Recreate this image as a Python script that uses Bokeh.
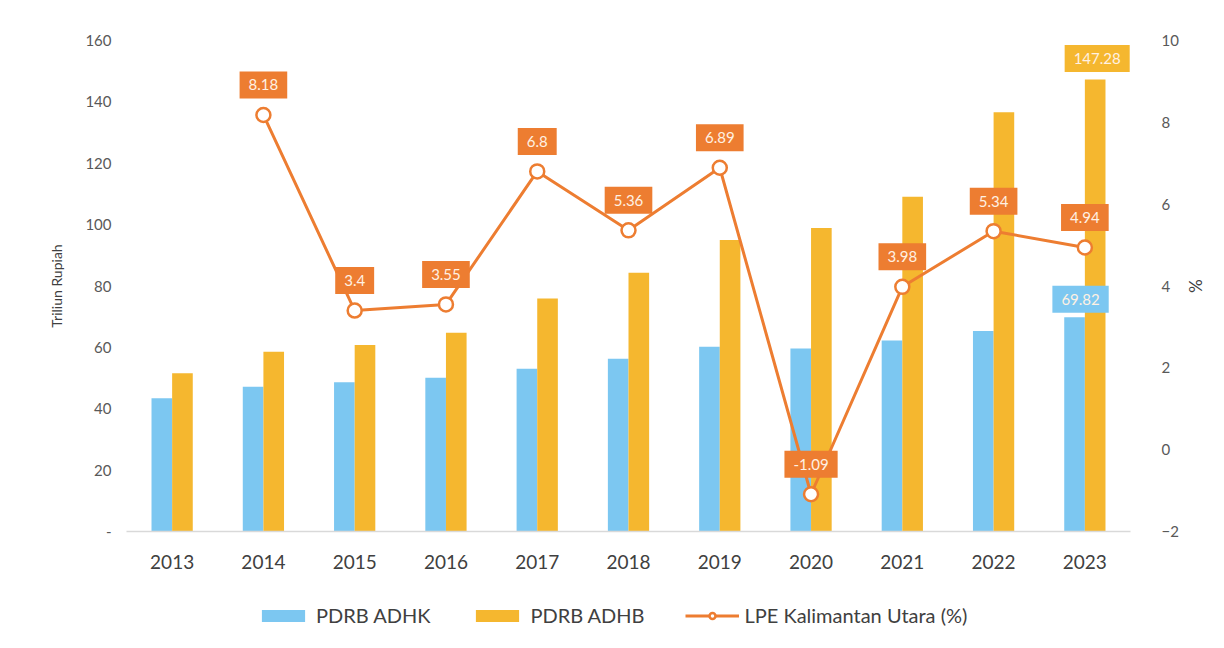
from bokeh.plotting import figure
from bokeh.layouts import column
from bokeh.models import (ColumnDataSource, Range1d, LinearAxis, Legend,
                          LegendItem, FixedTicker)
from bokeh.transform import dodge
from bokeh.core.properties import value
from bokeh.embed import file_html
from bokeh.resources import INLINE

years = ["2013", "2014", "2015", "2016", "2017", "2018", "2019", "2020", "2021", "2022", "2023"]
adhk = [43.4, 47.2, 48.6, 50.1, 53.0, 56.3, 60.2, 59.6, 62.2, 65.3, 69.82]
adhb = [51.6, 58.6, 60.8, 64.8, 75.9, 84.3, 95.0, 98.9, 109.1, 136.6, 147.28]
lpe_years = ["2014", "2015", "2016", "2017", "2018", "2019", "2020", "2021", "2022", "2023"]
lpe = [8.18, 3.40, 3.55, 6.80, 5.36, 6.89, -1.09, 3.98, 5.34, 4.94]
left_ticks = [0, 20, 40, 60, 80, 100, 120, 140, 160]
right_ticks = [-2, 0, 2, 4, 6, 8, 10]
legend_labels = ["PDRB ADHK", "PDRB ADHB", "LPE Kalimantan Utara (%)"]

BLUE = "#7CC7F1"
GOLD = "#F5B72F"
ORANGE = "#ED7D31"
FONT = "Lato"
W = 1216

bars = ColumnDataSource(dict(year=years, adhk=adhk, adhb=adhb))
line_src = ColumnDataSource(dict(year=lpe_years, lpe=lpe, txt=[f"{v:g}" for v in lpe]))
last_adhk = ColumnDataSource(dict(year=[years[-1]], v=[adhk[-1]], txt=[f"{adhk[-1]:.2f}"]))
last_adhb = ColumnDataSource(dict(year=[years[-1]], v=[adhb[-1]], txt=[f"{adhb[-1]:.2f}"]))

p = figure(x_range=years, y_range=Range1d(0, 160), width=W, height=585,
           output_backend="svg", toolbar_location=None,
           min_border_left=126, min_border_right=86, min_border_top=40, min_border_bottom=54)
p.extra_y_ranges = {"right": Range1d(-2, 10)}
p.outline_line_color = None
p.grid.visible = False

p.vbar(x=dodge("year", -0.113, range=p.x_range), top="adhk", width=0.226,
       source=bars, fill_color=BLUE, line_color=None)
p.vbar(x=dodge("year", 0.113, range=p.x_range), top="adhb", width=0.226,
       source=bars, fill_color=GOLD, line_color=None)
p.line(x="year", y="lpe", source=line_src, y_range_name="right",
       line_color=ORANGE, line_width=3)
p.scatter(x="year", y="lpe", source=line_src, y_range_name="right", size=14,
          fill_color="white", line_color=ORANGE, line_width=2.5)

common = dict(text_align="center", text_baseline="middle", text_font=value(FONT),
              text_font_size="15px", text_color="#FFF1E3", padding=[9, 9, 8, 8],
              border_line_color=None)
p.text(x="year", y="lpe", text="txt", source=line_src, y_range_name="right",
       y_offset=-30, background_fill_color=ORANGE, **common)
p.text(x=dodge("year", 0.113, range=p.x_range), y="v", text="txt",
       source=last_adhb, y_offset=-21, x_offset=2,
       background_fill_color=GOLD, **common)
p.text(x=dodge("year", -0.113, range=p.x_range), y="v", text="txt",
       source=last_adhk, y_offset=-18, x_offset=6,
       background_fill_color=BLUE, **common)

# left axis
ya = p.yaxis[0]
ya.ticker = FixedTicker(ticks=left_ticks)
ya.major_label_overrides = {0: "-"}
ya.axis_line_color = None
ya.major_tick_line_color = None
ya.minor_tick_line_color = None
ya.major_label_text_font = FONT
ya.major_label_text_font_size = "15px"
ya.major_label_text_color = "#595959"
ya.major_label_standoff = 9
ya.axis_label = "Triliun Rupiah"
ya.axis_label_text_font = FONT
ya.axis_label_text_font_size = "14px"
ya.axis_label_text_font_style = "normal"
ya.axis_label_text_color = "#404040"
ya.axis_label_standoff = 17

# right axis
ra = LinearAxis(y_range_name="right", ticker=FixedTicker(ticks=right_ticks))
ra.axis_line_color = None
ra.major_tick_line_color = None
ra.minor_tick_line_color = None
ra.major_label_text_font = FONT
ra.major_label_text_font_size = "15px"
ra.major_label_text_color = "#595959"
ra.major_label_standoff = 25
ra.axis_label = "%"
ra.axis_label_text_font = FONT
ra.axis_label_text_font_size = "17px"
ra.axis_label_text_font_style = "normal"
ra.axis_label_text_color = "#404040"
ra.axis_label_standoff = 3
p.add_layout(ra, "right")

# x axis
xa = p.xaxis[0]
xa.axis_line_color = "#D9D9D9"
xa.axis_line_width = 1.5
xa.major_tick_line_color = None
xa.minor_tick_line_color = None
xa.major_label_text_font = FONT
xa.major_label_text_font_size = "19px"
xa.major_label_text_color = "#404040"
xa.major_label_standoff = 17

# legend strip (dummy renderers with zero-size geometry, used only for legend swatches)
lg = figure(width=W, height=44, x_range=Range1d(0, 1), y_range=Range1d(0, 1),
            output_backend="svg", toolbar_location=None,
            min_border_left=126, min_border_right=86, min_border_top=0, min_border_bottom=0)
lg.axis.visible = False
lg.grid.visible = False
lg.outline_line_color = None
d1 = lg.vbar(x=[0.5], top=[0], bottom=[0], width=0.0, fill_color=BLUE, line_color=None)
d2 = lg.vbar(x=[0.5], top=[0], bottom=[0], width=0.0, fill_color=GOLD, line_color=None)
d3 = lg.line(x=[0.5, 0.5], y=[0.5, 0.5], line_color=ORANGE, line_width=3)
d4 = lg.scatter(x=[0.5], y=[-50], size=13, fill_color="white", line_color=ORANGE,
                line_width=2.5)
legend = Legend(items=[LegendItem(label=legend_labels[0], renderers=[d1]),
                       LegendItem(label=legend_labels[1], renderers=[d2]),
                       LegendItem(label=legend_labels[2], renderers=[d3, d4])],
                orientation="horizontal", location=(130, 2))
legend.padding = 0
legend.margin = 0
legend.border_line_color = None
legend.background_fill_alpha = 0
legend.glyph_width = 54
legend.glyph_height = 15
legend.label_standoff = 6
legend.spacing = 40
legend.label_text_font = FONT
legend.label_text_font_size = "20px"
legend.label_text_color = "#404040"
lg.add_layout(legend, "center")

open("out.html", "w").write(file_html(column(p, lg, spacing=0), INLINE))
